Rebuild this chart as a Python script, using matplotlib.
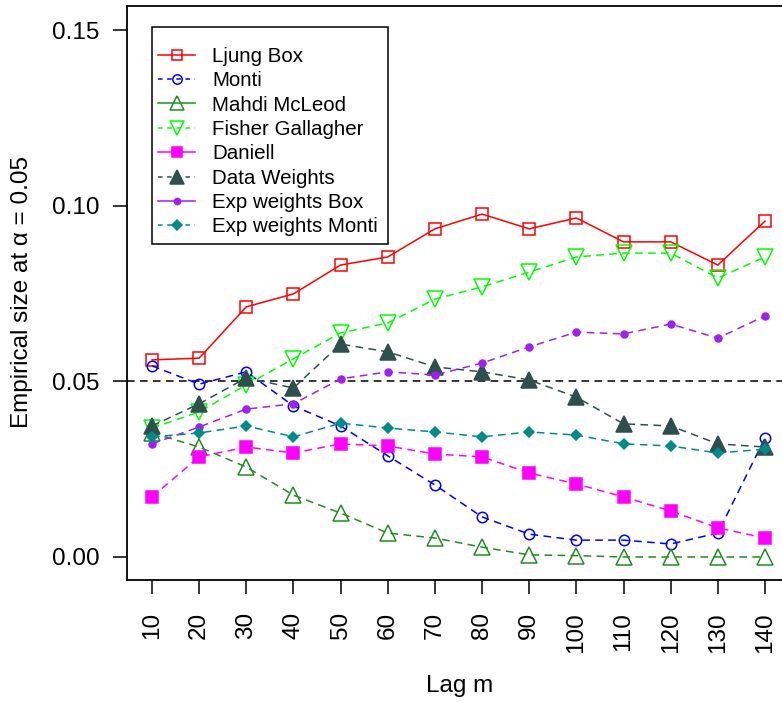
import matplotlib
matplotlib.use("Agg")
import matplotlib.pyplot as plt
from matplotlib.lines import Line2D
from matplotlib.patches import Rectangle

plt.rcParams['font.family'] = ['Liberation Sans', 'DejaVu Sans']

lags = [10, 20, 30, 40, 50, 60, 70, 80, 90, 100, 110, 120, 130, 140]

ljung_box = [0.0561, 0.0566, 0.0712, 0.0749, 0.0831, 0.0854, 0.0934,
             0.0976, 0.0934, 0.0965, 0.0897, 0.0897, 0.0831, 0.0956]
monti = [0.0544, 0.0492, 0.0527, 0.0430, 0.0373, 0.0288, 0.0205,
         0.0114, 0.0065, 0.0048, 0.0048, 0.0037, 0.0068, 0.0339]
mahdi_mcleod = [0.0353, 0.0313, 0.0256, 0.0176, 0.0125, 0.0068, 0.0054,
                0.0028, 0.0006, 0.0004, 0.0000, 0.0000, 0.0000, 0.0000]
fisher_gallagher = [0.0367, 0.0413, 0.0490, 0.0564, 0.0638, 0.0666, 0.0734,
                    0.0769, 0.0811, 0.0854, 0.0865, 0.0865, 0.0794, 0.0854]
daniell = [0.0171, 0.0285, 0.0313, 0.0296, 0.0322, 0.0316, 0.0293,
           0.0285, 0.0239, 0.0208, 0.0171, 0.0131, 0.0083, 0.0054]
data_weights = [0.0373, 0.0436, 0.0510, 0.0481, 0.0606, 0.0584, 0.0541,
                0.0527, 0.0504, 0.0455, 0.0379, 0.0373, 0.0322, 0.0313]
exp_box = [0.0322, 0.0370, 0.0421, 0.0436, 0.0507, 0.0527, 0.0518,
           0.0552, 0.0598, 0.0640, 0.0635, 0.0663, 0.0623, 0.0686]
exp_monti = [0.0342, 0.0353, 0.0373, 0.0342, 0.0381, 0.0367, 0.0356,
             0.0342, 0.0356, 0.0347, 0.0322, 0.0316, 0.0296, 0.0307]

alpha_level = 0.05

# label, values, colour, marker, size, filled, plot line style, legend line style
series = [
    ("Ljung Box", ljung_box, "#FF0000", "s", 8.5, False, "-", "-"),
    ("Monti", monti, "#0000FF", "o", 7.5, False, "--", "--"),
    ("Mahdi McLeod", mahdi_mcleod, "#228B22", "^", 11, False, "--", "-"),
    ("Fisher Gallagher", fisher_gallagher, "#00FF00", "v", 11, False, "--", "--"),
    ("Daniell", daniell, "#FF00FF", "s", 8, True, "--", "-"),
    ("Data Weights", data_weights, "#2F4F4F", "^", 11, True, "--", "--"),
    ("Exp weights Box", exp_box, "#A020F0", "o", 5, True, "--", "-"),
    ("Exp weights Monti", exp_monti, "#008B8B", "D", 5.5, True, "--", "--"),
]

dash = (0, (5, 3.5))
W, H = 782, 702

fig = plt.figure(figsize=(7.82, 7.02), dpi=100)
ax = fig.add_axes([127.3 / W, 1 - 580 / H, (789.5 - 127.3) / W, (580 - 5.7) / H])

ax.axhline(alpha_level, color="black", lw=1.1, linestyle=dash, zorder=1)

handles = []
for label, vals, col, mk, ms, filled, ls, lls in series:
    face = col if filled else "none"
    style = "-" if ls == "-" else dash
    ax.plot(lags, vals, color=col, linestyle=style, lw=1.1, marker=mk,
            markersize=ms, markerfacecolor=face, markeredgecolor=col,
            markeredgewidth=1.1, zorder=3)
    lstyle = "-" if lls == "-" else (0, (3, 3))
    handles.append(Line2D([0], [0], color=col, linestyle=lstyle, lw=1.1, marker=mk,
                          markersize=ms * 0.9, markerfacecolor=face,
                          markeredgecolor=col, markeredgewidth=1.1))

ax.set_xticks(lags)
ax.set_xticklabels([str(v) for v in lags], rotation=90)
ax.set_yticks([0.00, 0.05, 0.10, 0.15])
ax.set_yticklabels(["0.00", "0.05", "0.10", "0.15"])
ax.tick_params(axis="both", direction="out", length=10, width=1.1, labelsize=17.5)
ax.tick_params(axis="y", pad=10)
ax.tick_params(axis="x", pad=13)
for sp in ax.spines.values():
    sp.set_linewidth(1.3)

fig.text(460 / W, 1 - 686 / H, "Lag m", ha="center", va="center", fontsize=17.5)
fig.text(22 / W, 1 - 292 / H, "Empirical size at \u03b1 = 0.05", ha="center",
         va="center", rotation=90, fontsize=17.5)

# legend box drawn separately so its padding can be set freely
box = Rectangle((152 / W, 1 - 244 / H), (388 - 152) / W, (244 - 27) / H,
                transform=fig.transFigure, facecolor="white", edgecolor="black",
                lw=1.1, zorder=4, clip_on=False)
ax.add_patch(box)

leg = ax.legend(handles, [s[0] for s in series], loc="upper left",
                bbox_to_anchor=(158 / W, 1 - 47 / H), bbox_transform=fig.transFigure,
                fontsize=14.8, frameon=False,
                handlelength=1.8, handletextpad=0.83, labelspacing=0.26,
                borderpad=0, borderaxespad=0)
leg.set_zorder(5)

ax.set_xlim(4.76, 145.2)
ax.set_ylim(-0.00655, 0.15692)

fig.savefig("out.png", dpi=100)
